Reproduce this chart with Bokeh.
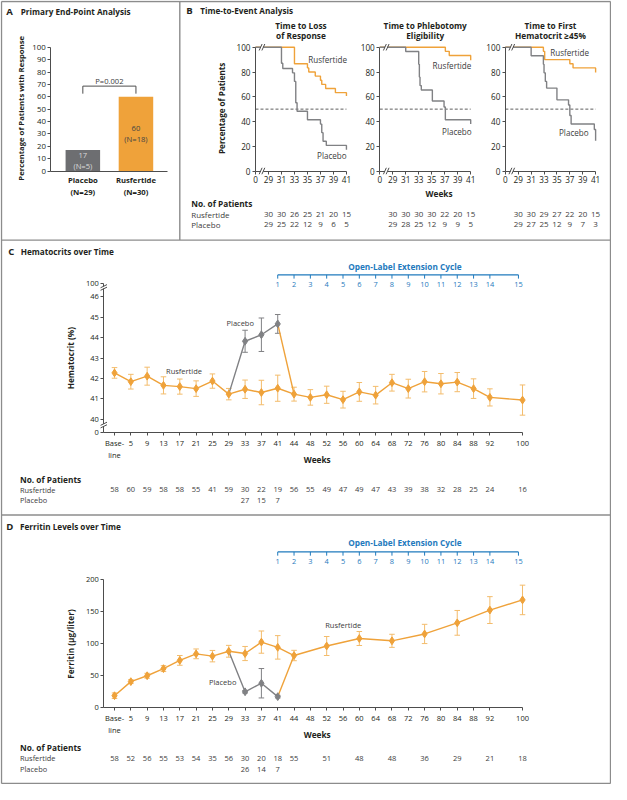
import math
from bokeh.plotting import figure
from bokeh.models import Range1d, LinearAxis, FixedTicker
from bokeh.core.properties import value
from bokeh.embed import file_html
from bokeh.resources import INLINE

# ------------------------------------------------------------------ data
# Panel A
a_groups = ["Placebo", "Rusfertide"]
a_group_n = [29, 30]
a_resp_pct = [17, 60]
a_resp_n = [5, 18]
a_p_label = "P=0.002"
a_yticks = [0, 10, 20, 30, 40, 50, 60, 70, 80, 90, 100]

# Panel B (Kaplan-Meier, weeks / percentage)
km_titles = [["Time to Loss", "of Response"],
             ["Time to Phlebotomy", "Eligibility"],
             ["Time to First", "Hematocrit \u226545%"]]
km_xticks = [29, 31, 33, 35, 37, 39, 41]
km_yticks = [0, 20, 40, 60, 80, 100]
km1_rus_t = [0, 33.0, 35.0, 35.2, 36.2, 37.0, 37.2, 37.8, 39.3, 41.0]
km1_rus_s = [100, 86.7, 83.3, 80.0, 76.7, 73.3, 70.0, 66.7, 63.3, 60.7]
km1_pla_t = [0, 31.0, 31.2, 32.7, 33.0, 33.2, 33.4, 35.0, 37.0, 37.2, 37.4, 37.9, 41.0]
km1_pla_s = [100, 87.1, 82.8, 79.3, 72.4, 55.2, 48.3, 41.4, 37.9, 31.0, 24.1, 20.7, 17.2]
km2_rus_t = [0, 37.1, 37.7, 41.0]
km2_rus_s = [100, 96.7, 93.3, 89.5]
km2_pla_t = [0, 31.0, 33.0, 33.1, 33.2, 33.4, 35.1, 36.9, 37.1, 41.0]
km2_pla_s = [100, 96.6, 86.2, 75.9, 69.0, 65.5, 56.6, 51.7, 41.4, 37.9]
km3_rus_t = [0, 32.9, 33.1, 37.0, 37.5, 41.0]
km3_rus_s = [100, 96.7, 90.0, 86.7, 83.3, 79.5]
km3_pla_t = [0, 31.0, 32.9, 33.0, 33.2, 33.4, 35.0, 36.8, 37.0, 37.2, 40.8, 41.0]
km3_pla_s = [100, 93.1, 86.2, 79.3, 72.4, 67.0, 57.5, 53.3, 44.8, 38.0, 33.5, 24.5]
km_risk_weeks = [29, 31, 33, 35, 37, 39, 41]
km1_risk_rus = [30, 30, 26, 25, 21, 20, 15]
km1_risk_pla = [29, 25, 22, 12, 9, 6, 5]
km2_risk_rus = [30, 30, 30, 30, 22, 20, 15]
km2_risk_pla = [29, 28, 25, 12, 9, 9, 5]
km3_risk_rus = [30, 30, 29, 27, 22, 20, 15]
km3_risk_pla = [29, 27, 25, 12, 9, 7, 3]

# Panel C (hematocrit)
visit_weeks = [0, 5, 9, 13, 17, 21, 25, 29, 33, 37, 41, 44, 48, 52, 56, 60, 64,
               68, 72, 76, 80, 84, 88, 92, 100]
visit_labels = ["Base-\nline", "5", "9", "13", "17", "21", "25", "29", "33", "37",
                "41", "44", "48", "52", "56", "60", "64", "68", "72", "76", "80",
                "84", "88", "92", "100"]
hct_rus = [42.27, 41.84, 42.11, 41.66, 41.60, 41.50, 41.87, 41.23, 41.47, 41.31,
           41.52, 41.23, 41.07, 41.20, 40.96, 41.34, 41.18, 41.79, 41.50, 41.84,
           41.74, 41.82, 41.50, 41.07, 40.94]
hct_rus_err = [0.26, 0.36, 0.44, 0.42, 0.37, 0.38, 0.35, 0.28, 0.45, 0.60, 0.64,
               0.34, 0.38, 0.42, 0.41, 0.46, 0.43, 0.41, 0.46, 0.50, 0.50, 0.47,
               0.48, 0.42, 0.74]
hct_pla_weeks = [33, 37, 41]
hct_pla = [43.82, 44.14, 44.67]
hct_pla_err = [0.54, 0.82, 0.46]
hct_risk_rus = [58, 60, 59, 58, 58, 55, 41, 59, 30, 22, 19, 56, 55, 49, 47, 49, 47,
                43, 39, 38, 32, 28, 25, 24, 16]
hct_risk_pla = [27, 15, 7]
hct_yticks = [40, 41, 42, 43, 44, 45, 46]
hct_break_labels = ["0", "100"]

# Panel D (ferritin)
fer_weeks = [0, 5, 9, 13, 17, 21, 25, 29, 33, 37, 41, 44, 52, 60, 68, 76, 84, 92, 100]
fer_rus = [18.8, 40.7, 49.9, 61.0, 73.8, 84.0, 80.4, 88.0, 84.5, 102.3, 94.1, 81.4,
           96.2, 107.9, 104.3, 115.0, 132.3, 152.2, 168.0]
fer_rus_err = [4.3, 3.0, 3.8, 4.6, 7.6, 7.6, 8.9, 9.2, 11.0, 17.3, 18.3, 8.1, 14.8,
               10.9, 10.2, 15.0, 19.3, 20.9, 23.0]
fer_pla_weeks = [33, 37, 41]
fer_pla = [24.9, 38.2, 17.3]
fer_pla_err = [2.0, 22.9, 2.0]
fer_risk_rus = [58, 52, 56, 55, 53, 54, 35, 56, 30, 20, 18, 55, 51, 48, 48, 36, 29, 21, 18]
fer_risk_pla = [26, 14, 7]
fer_yticks = [0, 50, 100, 150, 200]

# Open-label extension cycles (start week of each cycle)
cycle_labels = ["1", "2", "3", "4", "5", "6", "7", "8", "9", "10", "11", "12", "13", "14", "15"]
cycle_weeks = [41, 44, 48, 52, 56, 60, 64, 68, 72, 76, 80, 84, 88, 92, 99]

# ------------------------------------------------------------------ style
FONT = "Open Sans"
W, H = 611, 784
RW, RH = 627.0, 800.0          # layout units of the page
FS = W / RW
ORANGE = "#EFA23A"
ORANGE_ERR = "#F3BC6C"
GRAY = "#808184"
BAR_GRAY = "#6D6E71"
INK = "#231F20"
SOFT = "#3C3C3C"
AXIS = "#4D4D4D"
BLUE = "#1F7ABD"
BORDER = "#8C8C8C"


class Map:
    def __init__(self, v0, p0, v1, p1):
        self.v0, self.p0 = v0, p0
        self.k = (v1 - v0) / (p1 - p0)

    def data(self, px):
        return self.v0 + (px - self.p0) * self.k

    def px(self, v):
        return self.p0 + (v - self.v0) / self.k


MX = {"a": Map(0, 84.5, 1, 139.0),
      "k1": Map(29, 275.0, 41, 355.0),
      "k2": Map(29, 402.5, 41, 482.5),
      "k3": Map(29, 531.3, 41, 610.7),
      "c": Map(0, 117.0, 25, 535.7)}
MY = {"pct": Map(0, 174.0, 100, 47.7),
      "cy": Map(40, 427.3, 46, 302.3),
      "dy": Map(0, 721.7, 200, 590.7)}


def vpos(w):
    if w == 0:
        r = 0
    elif w <= 41:
        r = (w - 1) / 4
    else:
        r = 11 + (w - 44) / 4
    return int(r) if float(r).is_integer() else r


p = figure(width=W, height=H, x_range=Range1d(0, RW), y_range=Range1d(RH, 0),
           x_axis_type=None, y_axis_type=None, toolbar_location=None,
           output_backend="svg", min_border=0)
p.outline_line_color = None
p.background_fill_color = "white"
p.border_fill_color = "white"
p.extra_x_ranges = {k: Range1d(m.data(0), m.data(RW)) for k, m in MX.items()}
p.extra_y_ranges = {k: Range1d(m.data(RH), m.data(0)) for k, m in MY.items()}


def fsz(s):
    return value(f"{s * FS:.2f}px")


def text(xs, ys, texts, size, bold=False, color=INK, align="center",
         baseline="middle", angle=0.0, xr=None, yr=None):
    kw = {}
    if xr:
        kw["x_range_name"] = xr
    if yr:
        kw["y_range_name"] = yr
    p.text(x=list(xs), y=list(ys), text=list(texts), text_font=value(FONT),
           text_font_size=fsz(size), text_font_style="bold" if bold else "normal",
           text_color=color, text_align=align, text_baseline=baseline,
           angle=angle, **kw)


def style_axis(ax, size, bold=False, tick_out=3, standoff=2):
    ax.axis_line_color = AXIS
    ax.axis_line_width = 1
    ax.major_tick_line_color = AXIS if tick_out else None
    ax.major_tick_line_width = 1
    ax.major_tick_in = 0
    ax.major_tick_out = tick_out
    ax.minor_tick_line_color = None
    ax.major_label_standoff = standoff
    ax.major_label_text_font = FONT
    ax.major_label_text_font_size = f"{size * FS:.2f}px"
    ax.major_label_text_font_style = "bold" if bold else "normal"
    ax.major_label_text_color = INK


def add_yaxis(rname, loc, ticks, bounds, size, labels=None):
    ax = LinearAxis(y_range_name=rname, fixed_location=loc, bounds=bounds,
                    ticker=FixedTicker(ticks=list(ticks)))
    labels = labels if labels is not None else [str(t) for t in ticks]
    ax.major_label_overrides = dict(zip(ticks, labels))
    style_axis(ax, size)
    p.add_layout(ax, "left")


def add_xaxis(rname, loc, ticks, bounds, size, labels=None, bold=False,
              tick_out=3, standoff=2):
    ax = LinearAxis(x_range_name=rname, fixed_location=loc, bounds=bounds,
                    ticker=FixedTicker(ticks=list(ticks)))
    labels = labels if labels is not None else [str(t) for t in ticks]
    ax.major_label_overrides = dict(zip(ticks, labels))
    style_axis(ax, size, bold=bold, tick_out=tick_out, standoff=standoff)
    p.add_layout(ax, "below")


def hbreak(xpx, ypx):
    """'//' mark across a horizontal axis line (layout units)."""
    r = p.rect(x=[xpx], y=[ypx], width=2.6, height=2.4, fill_color="white", line_color=None)
    r.level = "overlay"
    s = p.segment(x0=[xpx - 2.9, xpx - 0.1], y0=[ypx + 3.3, ypx + 3.3],
                  x1=[xpx + 0.1, xpx + 2.9], y1=[ypx - 3.3, ypx - 3.3],
                  line_color=AXIS, line_width=1)
    s.level = "overlay"


def vbreak(xpx, ypx):
    """'//' mark across a vertical axis line (layout units)."""
    r = p.rect(x=[xpx], y=[ypx], width=2.4, height=2.2, fill_color="white", line_color=None)
    r.level = "overlay"
    s = p.segment(x0=[xpx - 3.3, xpx - 3.3], y0=[ypx + 0.3, ypx + 2.9],
                  x1=[xpx + 3.3, xpx + 3.3], y1=[ypx - 2.9, ypx - 0.3],
                  line_color=AXIS, line_width=1)
    s.level = "overlay"


# ------------------------------------------------------------------ panel frames
p.segment(x0=[1, 1, 1, 626, 184, 1, 1], y0=[1, 799, 1, 1, 1, 244.5, 525],
          x1=[626, 626, 1, 626, 184, 626, 626], y1=[1, 799, 799, 799, 244.5, 244.5, 525],
          line_color=BORDER, line_width=1.4)

# ------------------------------------------------------------------ Panel A
text([6], [11], ["A"], 9.8, bold=True, align="left")
text([20.7], [11], ["Primary End-Point Analysis"], 8.4, bold=True, align="left")

a_pos = list(range(len(a_groups)))
p.vbar(x=a_pos, top=a_resp_pct, bottom=0, width=0.65, fill_color=[BAR_GRAY, ORANGE],
       line_color=None, x_range_name="a", y_range_name="pct")
add_yaxis("pct", 51.7, a_yticks, (0, 100), 8.1)
add_xaxis("a", 174, a_pos, (MX["a"].data(51.7), MX["a"].data(171)), 7.9,
          labels=[f"{g}\n(N={n})" for g, n in zip(a_groups, a_group_n)],
          bold=True, tick_out=0, standoff=4)
mids = [MY["pct"].px(v / 2) for v in a_resp_pct]
a_lbl_colors = ["#D9D9D9", "#444444"]
text(a_pos, [m - 5.6 for m in mids], [str(v) for v in a_resp_pct], 7.8,
     color=a_lbl_colors, xr="a")
text(a_pos, [m + 5.6 for m in mids], [f"(N={n})" for n in a_resp_n], 7.8,
     color=a_lbl_colors, xr="a")
p.line(x=[a_pos[0], a_pos[0], a_pos[1], a_pos[1]], y=[62.5, 68.6, 68.6, 62.5],
       x_range_name="a", y_range_name="pct", line_color=AXIS, line_width=1)
text([(a_pos[0] + a_pos[1]) / 2], [81.7], [a_p_label], 7.8, color=SOFT, xr="a")
text([20.7], [110], ["Percentage of Patients with Response"], 7.9, bold=True,
     angle=math.pi / 2)

# ------------------------------------------------------------------ Panel B
text([190.5], [10], ["B"], 9.8, bold=True, align="left")
text([205], [10], ["Time-to-Event Analysis"], 8.4, bold=True, align="left")
text([227.3], [110], ["Percentage of Patients"], 8.3, bold=True, angle=math.pi / 2)
text([450], [197], ["Weeks"], 8.5, bold=True)
text([195.7], [206.7], ["No. of Patients"], 8.5, bold=True, align="left")
text([195.7, 195.7], [218.3, 229], ["Rusfertide", "Placebo"], 8.2, color=SOFT, align="left")

km_sets = [(km1_rus_t, km1_rus_s, km1_pla_t, km1_pla_s, km1_risk_rus, km1_risk_pla),
           (km2_rus_t, km2_rus_s, km2_pla_t, km2_pla_s, km2_risk_rus, km2_risk_pla),
           (km3_rus_t, km3_rus_s, km3_pla_t, km3_pla_s, km3_risk_rus, km3_risk_pla)]
rus_lbl = [(335.7, 60), (463.3, 66.7), (584, 53.3)]
pla_lbl = [(340, 158), (468.3, 133.3), (588.3, 135)]
for i, (rt, rs, pt, ps, rr, rp) in enumerate(km_sets):
    rn = f"k{i + 1}"
    m = MX[rn]
    x_zero = 27
    add_yaxis("pct", m.px(x_zero), km_yticks, (0, 100), 8.4)
    add_xaxis(rn, 174, [x_zero] + km_xticks, (x_zero, 41), 8.4,
              labels=["0"] + [str(t) for t in km_xticks])
    p.line(x=[x_zero, 41], y=[50, 50], x_range_name=rn, y_range_name="pct",
           line_color=AXIS, line_width=0.9, line_dash="3 2")
    p.step(x=[x_zero if t == 0 else t for t in rt], y=rs, mode="after",
           x_range_name=rn, y_range_name="pct", line_color=ORANGE, line_width=1.4)
    p.step(x=[x_zero if t == 0 else t for t in pt], y=ps, mode="after",
           x_range_name=rn, y_range_name="pct", line_color=GRAY, line_width=1.4)
    text([34, 34], [25, 36], km_titles[i], 8.5, bold=True, xr=rn)
    text(km_risk_weeks, [218.3] * len(rr), [str(v) for v in rr], 8.2, color=SOFT, xr=rn)
    text(km_risk_weeks, [229] * len(rp), [str(v) for v in rp], 8.2, color=SOFT, xr=rn)
    text([rus_lbl[i][0]], [rus_lbl[i][1]], ["Rusfertide"], 8.3, color=SOFT)
    text([pla_lbl[i][0]], [pla_lbl[i][1]], ["Placebo"], 8.3, color=SOFT)
    bx = m.px(28)
    hbreak(bx, MY["pct"].px(0))
    hbreak(bx, MY["pct"].px(100))


# ------------------------------------------------------------------ Panels C & D helpers
def err_series(yr, xs, ys, errs, color, width=1.0, cap=0.17):
    lo = [y - e for y, e in zip(ys, errs)]
    hi = [y + e for y, e in zip(ys, errs)]
    p.segment(x0=xs, x1=xs, y0=lo, y1=hi, x_range_name="c", y_range_name=yr,
              line_color=color, line_width=width)
    p.segment(x0=[x - cap for x in xs] * 2, x1=[x + cap for x in xs] * 2,
              y0=lo + hi, y1=lo + hi, x_range_name="c", y_range_name=yr,
              line_color=color, line_width=width)


def ext_bracket(y_line, y_lbl, y_title):
    xs = [vpos(w) for w in cycle_weeks]
    n = len(xs)
    p.line(x=[xs[0], xs[-1]], y=[y_line, y_line], x_range_name="c",
           line_color=BLUE, line_width=1.3)
    p.segment(x0=xs, x1=xs, y0=[y_line] * n, y1=[y_line + 3.8] * n,
              x_range_name="c", line_color=BLUE, line_width=1)
    text(xs, [y_lbl] * n, cycle_labels, 7.6, color=BLUE, xr="c")
    text([415], [y_title], ["Open-Label Extension Cycle"], 8.5, bold=True, color=BLUE)


def time_panel(yr, x_axis_px, yticks, ybounds, ylabels, rus_weeks, rus, rus_err,
               pla_weeks, pla, pla_err, risk_rus, risk_pla, y_risk):
    cm = MX["c"]
    ticks = [vpos(w) for w in visit_weeks]
    add_xaxis("c", x_axis_px, ticks, (cm.data(106), 25), 7.7, labels=visit_labels)
    add_yaxis(yr, 106, yticks, ybounds, 7.7, labels=ylabels)
    rx = [vpos(w) for w in rus_weeks]
    px_ = [vpos(w) for w in pla_weeks]
    i29 = rus_weeks.index(29)
    i44 = rus_weeks.index(44)
    err_series(yr, rx, rus, rus_err, ORANGE_ERR)
    err_series(yr, px_, pla, pla_err, GRAY)
    p.line(x=[rx[i29]] + px_, y=[rus[i29]] + pla, x_range_name="c",
           y_range_name=yr, line_color=GRAY, line_width=1.4)
    p.line(x=[px_[-1], rx[i44]], y=[pla[-1], rus[i44]], x_range_name="c",
           y_range_name=yr, line_color=ORANGE, line_width=1.4)
    p.line(x=rx, y=rus, x_range_name="c", y_range_name=yr, line_color=ORANGE,
           line_width=1.4)
    p.scatter(x=px_, y=pla, marker="diamond", size=7.8, x_range_name="c",
              y_range_name=yr, fill_color=GRAY, line_color=GRAY)
    p.scatter(x=rx, y=rus, marker="diamond", size=7.8, x_range_name="c",
              y_range_name=yr, fill_color=ORANGE, line_color=ORANGE)
    text(rx, [y_risk[1]] * len(rx), [str(v) for v in risk_rus], 7.7, color=SOFT, xr="c")
    text(px_, [y_risk[2]] * len(px_), [str(v) for v in risk_pla], 7.7, color=SOFT, xr="c")
    text([20], [y_risk[0]], ["No. of Patients"], 8.5, bold=True, align="left")
    text([20, 20], [y_risk[1], y_risk[2]], ["Rusfertide", "Placebo"], 7.6,
         color=SOFT, align="left")


# ------------------------------------------------------------------ Panel C
text([8], [255.7], ["C"], 9.8, bold=True, align="left")
text([20.7], [255.7], ["Hematocrits over Time"], 8.4, bold=True, align="left")
c_yt = [39.35] + hct_yticks + [46.65]
c_yl = [hct_break_labels[0]] + [str(t) for t in hct_yticks] + [hct_break_labels[1]]
time_panel("cy", 441, c_yt, (39.35, 46.65), c_yl, visit_weeks, hct_rus, hct_rus_err,
           hct_pla_weeks, hct_pla, hct_pla_err, hct_risk_rus, hct_risk_pla,
           (488.3, 499.0, 509.7))
vbreak(106, 292.8)
vbreak(106, 433.2)
ext_bracket(280, 289.3, 271)
text([71.7], [365], ["Hematocrit (%)"], 8.5, bold=True, angle=math.pi / 2)
text([325], [468.3], ["Weeks"], 8.5, bold=True)
text([246], [329], ["Placebo"], 7.7, color=SOFT)
text([188.3], [377.7], ["Rusfertide"], 7.7, color=SOFT)

# ------------------------------------------------------------------ Panel D
text([6], [536.7], ["D"], 9.8, bold=True, align="left")
text([20], [536.7], ["Ferritin Levels over Time"], 8.4, bold=True, align="left")
time_panel("dy", 721.7, fer_yticks, (0, 200), None, fer_weeks, fer_rus, fer_rus_err,
           fer_pla_weeks, fer_pla, fer_pla_err, fer_risk_rus, fer_risk_pla,
           (762.3, 773.3, 784.3))
ext_bracket(562.7, 572.3, 553.3)
text([71.7], [656.7], ["Ferritin (\u03bcg/liter)"], 8.5, bold=True, angle=math.pi / 2)
text([325], [749], ["Weeks"], 8.5, bold=True)
text([228], [695.7], ["Placebo"], 7.7, color=SOFT)
text([351.7], [637.7], ["Rusfertide"], 7.7, color=SOFT)

open("out.html", "w").write(file_html(p, INLINE))
